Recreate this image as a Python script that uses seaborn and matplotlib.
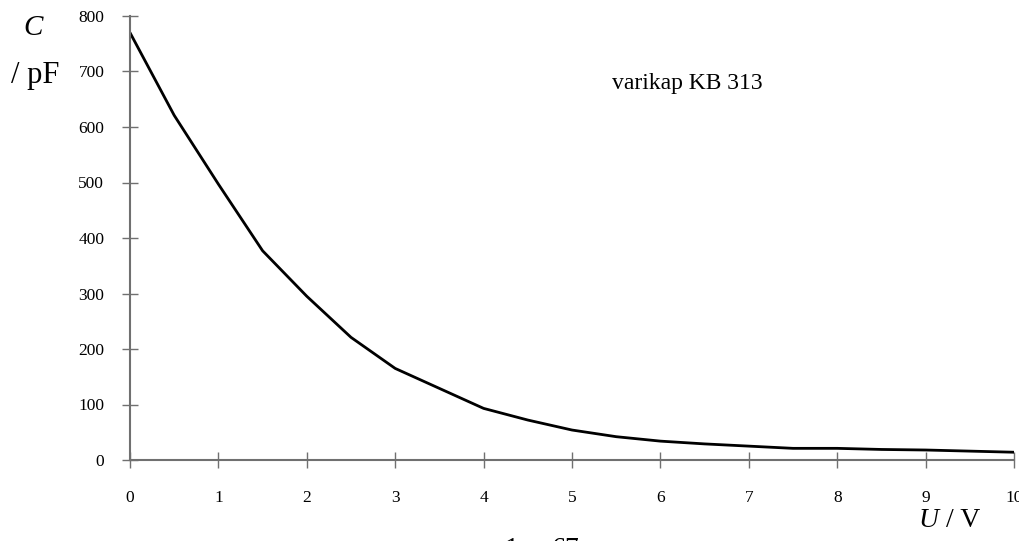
import matplotlib
matplotlib.use("Agg")
import matplotlib.pyplot as plt
import seaborn as sns
import pandas as pd

# Data
U_volts = [0, 0.5, 1, 1.5, 2, 2.5, 3, 3.5, 4, 4.5, 5, 5.5, 6, 6.5, 7, 7.5, 8, 8.5, 9, 9.5, 10]
C_pF = [770, 621, 497, 377, 295, 221, 165, 129, 93, 72, 54, 42, 34, 29, 25, 21, 21, 19, 18, 16, 14]
x_ticks = [0, 1, 2, 3, 4, 5, 6, 7, 8, 9, 10]
y_ticks = [0, 100, 200, 300, 400, 500, 600, 700, 800]

sns.set_style("white")
plt.rcParams['font.family'] = ['Liberation Serif', 'DejaVu Serif']
plt.rcParams['text.color'] = 'black'

W, H = 1019, 541
fig = plt.figure(figsize=(W / 100, H / 100), dpi=100)
ax = fig.add_axes([130 / W, 1 - 460 / H, (1014 - 130) / W, (460 - 16) / H])

df = pd.DataFrame({"U": U_volts, "C": C_pF})
sns.lineplot(data=df, x="U", y="C", ax=ax, color="black", linewidth=2.0)

ax.set_xlim(0, 10)
ax.set_ylim(0, 800)
ax.set_xticks(x_ticks)
ax.set_yticks(y_ticks)
ax.set_xlabel("")
ax.set_ylabel("")

axis_grey = "#707070"
for s in ["top", "right"]:
    ax.spines[s].set_visible(False)
for s in ["left", "bottom"]:
    ax.spines[s].set_color(axis_grey)
    ax.spines[s].set_linewidth(1.5)
ax.tick_params(axis="both", direction="inout", length=11, width=1.0,
               color=axis_grey, labelsize=12.5, labelcolor="black",
               bottom=True, left=True, top=False, right=False)
ax.tick_params(axis="y", pad=13)
ax.tick_params(axis="x", pad=16)
for lbl in ax.get_xticklabels() + ax.get_yticklabels():
    lbl.set_clip_on(False)

def ft(x, y, s, **kw):
    fig.text(x / W, 1 - y / H, s, ha="left", va="baseline", color="black", **kw)

# Axis labels as free text like in the reference
ft(23, 35, "C", fontsize=21, style="italic")
ft(11, 83, "/ pF", fontsize=22)
ft(918, 527, "U", fontsize=20, style="italic")
ft(946, 527, "/ V", fontsize=20)
ft(612, 89, "varikap KB 313", fontsize=17)
ft(505, 556.5, "1", fontsize=20)
ft(552, 556.5, "67", fontsize=20)

fig.savefig("out.png", dpi=100)
